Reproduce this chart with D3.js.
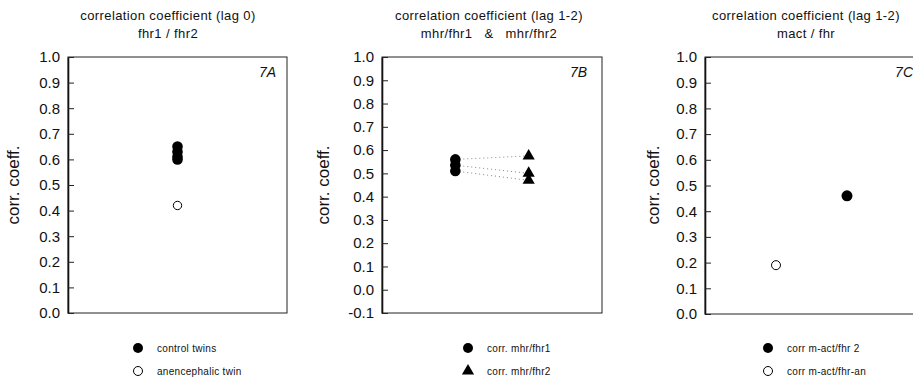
<!DOCTYPE html>
<html>
<head>
<meta charset="utf-8">
<script src="https://cdn.jsdelivr.net/npm/d3@7/dist/d3.min.js"></script>
<style>
  html, body { margin: 0; padding: 0; background: #fff; }
  svg { display: block; font-family: "Liberation Sans", Arial, Helvetica, sans-serif; }
  .tick text { font-size: 15px; fill: #111; }
  .title { font-size: 13px; letter-spacing: 0.4px; fill: #111; }
  .ylab { font-size: 17px; fill: #111; }
  .tag { font-size: 14px; font-style: italic; fill: #111; }
  .legend text { font-size: 10px; letter-spacing: 0.3px; fill: #111; }
</style>
</head>
<body>
<svg id="chart" width="913" height="383"></svg>
<script>
// Panel 7A: lag-0 correlation of the two fetal heart rates
const ticksA = [0.0, 0.1, 0.2, 0.3, 0.4, 0.5, 0.6, 0.7, 0.8, 0.9, 1.0];
const controlTwins = [0.65, 0.63, 0.61, 0.60];
const anencephalicTwin = [0.42];

// Panel 7B: lag 1-2 correlation of maternal vs. fetal heart rates
const ticksB = [-0.1, 0.0, 0.1, 0.2, 0.3, 0.4, 0.5, 0.6, 0.7, 0.8, 0.9, 1.0];
const corrMhrFhr1 = [0.56, 0.535, 0.51];
const corrMhrFhr2 = [0.575, 0.50, 0.47];

// Panel 7C: lag 1-2 correlation of maternal activity vs. fetal heart rate
const ticksC = [0.0, 0.1, 0.2, 0.3, 0.4, 0.5, 0.6, 0.7, 0.8, 0.9, 1.0];
const corrMactFhr2 = [0.46];
const corrMactFhrAn = [0.19];

const svg = d3.select("#chart");
const fmt = v => d3.format(".1f")(v).replace("\u2212", "-");

function panel(opt) {
  const g = svg.append("g");
  const y = d3.scaleLinear().domain(opt.domain).range([opt.y1, opt.y0]);
  const x = d3.scalePoint().domain(opt.cats).range([opt.x0, opt.x1]).padding(opt.pad);

  // frame
  g.append("rect")
    .attr("x", opt.x0).attr("y", opt.y0)
    .attr("width", opt.x1 - opt.x0).attr("height", opt.y1 - opt.y0)
    .attr("fill", "none").attr("stroke", "#222").attr("stroke-width", 1);

  // left axis with inward ticks
  const ax = g.append("g")
    .attr("transform", `translate(${opt.x0},0)`)
    .call(d3.axisLeft(y).tickValues(opt.ticks).tickFormat(fmt)
      .tickSizeInner(-6).tickSizeOuter(0).tickPadding(8));
  ax.select(".domain").attr("stroke", "#111").attr("stroke-width", 1.6);
  ax.selectAll(".tick line").attr("stroke", "#222");
  ax.selectAll(".tick text").attr("font-family", null).attr("font-size", null);

  // titles
  g.append("text").attr("class", "title").attr("text-anchor", "middle")
    .attr("x", opt.tx).attr("y", 20).text(opt.title1);
  g.append("text").attr("class", "title").attr("text-anchor", "middle")
    .attr("x", opt.tx).attr("y", 38).attr("xml:space", "preserve").text(opt.title2);

  // y label
  g.append("text").attr("class", "ylab").attr("text-anchor", "middle")
    .attr("transform", `translate(${opt.ylx},185) rotate(-90)`)
    .text("corr. coeff.");

  // panel tag
  g.append("text").attr("class", "tag").attr("text-anchor", "end")
    .attr("x", opt.tagx).attr("y", 77).text(opt.tag);

  return { g, x, y };
}

function legend(g, x, items) {
  const lg = g.append("g").attr("class", "legend");
  items.forEach((it, i) => {
    const cy = 348 + i * 23;
    if (it.shape === "triangle") {
      lg.append("path")
        .attr("d", d3.symbol(d3.symbolTriangle, 64)())
        .attr("transform", `translate(${x},${cy})`).attr("fill", "#000");
    } else {
      lg.append("circle").attr("cx", x).attr("cy", cy)
        .attr("r", it.filled ? 5 : 4.5)
        .attr("fill", it.filled ? "#000" : "#fff")
        .attr("stroke", "#000").attr("stroke-width", it.filled ? 0 : 1);
    }
    lg.append("text").attr("x", x + 19).attr("y", cy + 3.5).text(it.label);
  });
}

// ---- 7A ----
{
  const p = panel({ x0: 68, x1: 287, y0: 57, y1: 313, domain: [0, 1], ticks: ticksA,
    cats: ["twins"], pad: 0.5, tx: 168,
    title1: "correlation coefficient (lag 0)", title2: "fhr1 / fhr2",
    ylx: 19, tag: "7A", tagx: 276 });
  p.g.selectAll(".ctl").data(controlTwins).join("circle")
    .attr("cx", p.x("twins")).attr("cy", d => p.y(d)).attr("r", 5.3).attr("fill", "#000");
  p.g.selectAll(".an").data(anencephalicTwin).join("circle")
    .attr("cx", p.x("twins")).attr("cy", d => p.y(d)).attr("r", 4.2)
    .attr("fill", "#fff").attr("stroke", "#000").attr("stroke-width", 1);
  legend(p.g, 138, [
    { filled: true, label: "control twins" },
    { filled: false, label: "anencephalic twin" }
  ]);
}

// ---- 7B ----
{
  const p = panel({ x0: 382, x1: 602, y0: 57, y1: 313, domain: [-0.1, 1], ticks: ticksB,
    cats: ["fhr1", "fhr2"], pad: 1, tx: 489,
    title1: "correlation coefficient (lag 1-2)", title2: "mhr/fhr1   &   mhr/fhr2",
    ylx: 329, tag: "7B", tagx: 587 });
  const pairs = corrMhrFhr1.map((v, i) => [v, corrMhrFhr2[i]]);
  p.g.selectAll(".link").data(pairs).join("line")
    .attr("x1", p.x("fhr1")).attr("y1", d => p.y(d[0]))
    .attr("x2", p.x("fhr2")).attr("y2", d => p.y(d[1]))
    .attr("stroke", "#888").attr("stroke-width", 1).attr("stroke-dasharray", "1,3");
  p.g.selectAll(".c1").data(corrMhrFhr1).join("circle")
    .attr("cx", p.x("fhr1")).attr("cy", d => p.y(d)).attr("r", 5.3).attr("fill", "#000");
  p.g.selectAll(".t2").data(corrMhrFhr2).join("path")
    .attr("d", d3.symbol(d3.symbolTriangle, 64)())
    .attr("transform", d => `translate(${p.x("fhr2")},${p.y(d)})`).attr("fill", "#000");
  legend(p.g, 468, [
    { filled: true, label: "corr. mhr/fhr1" },
    { shape: "triangle", label: "corr. mhr/fhr2" }
  ]);
}

// ---- 7C ----
{
  const p = panel({ x0: 705, x1: 918, y0: 57, y1: 314, domain: [0, 1], ticks: ticksC,
    cats: ["an", "fhr2"], pad: 1, tx: 806,
    title1: "correlation coefficient (lag 1-2)", title2: "mact / fhr",
    ylx: 659, tag: "7C", tagx: 913 });
  p.g.selectAll(".f2").data(corrMactFhr2).join("circle")
    .attr("cx", p.x("fhr2")).attr("cy", d => p.y(d)).attr("r", 5.5).attr("fill", "#000");
  p.g.selectAll(".fan").data(corrMactFhrAn).join("circle")
    .attr("cx", p.x("an")).attr("cy", d => p.y(d)).attr("r", 4.5)
    .attr("fill", "#fff").attr("stroke", "#000").attr("stroke-width", 1);
  legend(p.g, 768, [
    { filled: true, label: "corr m-act/fhr 2" },
    { filled: false, label: "corr m-act/fhr-an" }
  ]);
}
</script>
</body>
</html>
